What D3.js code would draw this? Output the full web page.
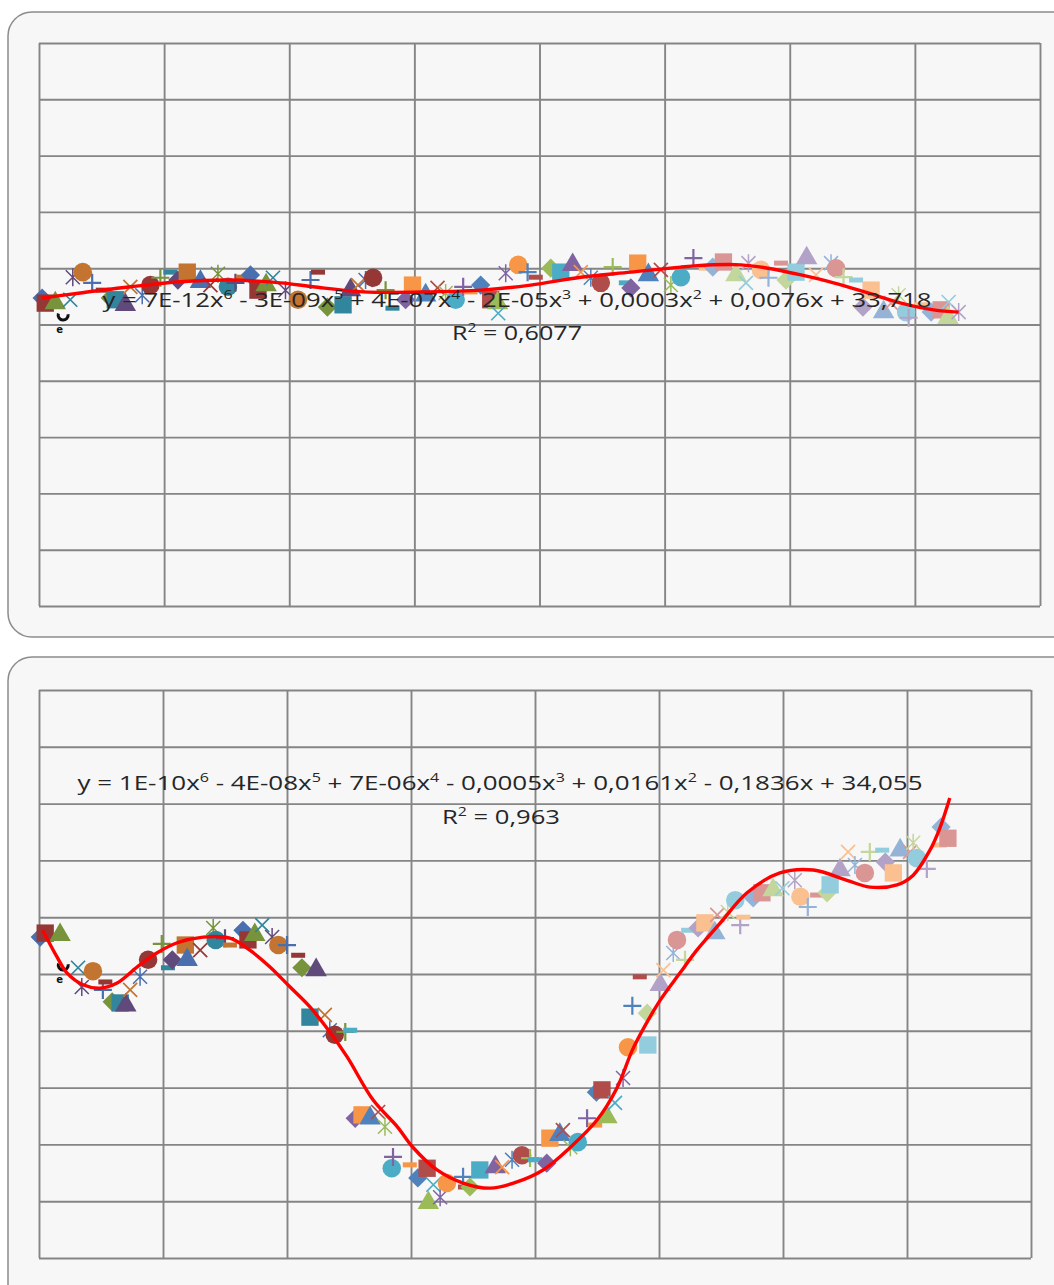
<!DOCTYPE html>
<html>
<head>
<meta charset="utf-8">
<script src="https://cdn.jsdelivr.net/npm/d3@7"></script>
<style>
  html, body { margin: 0; padding: 0; background: #fff; }
  svg { display: block; }
  .grid line { stroke: #858585; stroke-width: 1.9; }
  .grid .domain { display: none; }
  .eq { font-family: "Open Sans", "Noto Sans", sans-serif; fill: #262626; }
</style>
</head>
<body>
<svg id="chart" width="1054" height="1285"></svg>
<script>
/* ===========================================================
   Data
   =========================================================== */

const X_TICKS = [0, 20, 40, 60, 80, 100, 120, 140, 160];
const Y_TICKS = [30, 31, 32, 33, 34, 35, 36, 37, 38, 39, 40];

// top panel
const TOP_X = [0.5,1.0,2.6,5.0,5.4,7.0,8.5,10.2,11.4,12.2,
  13.8,14.6,16.5,17.8,19.4,21.0,22.2,23.7,25.8,27.4,
  28.6,30.2,31.4,32.6,33.8,35.0,36.3,37.4,39.4,41.4,
  43.4,44.6,46.1,48.6,49.8,51.0,52.2,53.4,55.4,56.5,
  58.6,59.7,61.8,63.7,65.0,66.6,67.8,69.0,70.6,72.2,
  73.3,73.4,74.6,76.6,78.1,79.4,81.8,83.4,85.3,86.6,
  88.2,89.8,91.7,93.8,94.6,95.7,97.4,99.4,101.0,102.6,
  104.6,106.6,107.7,109.4,111.4,113.0,113.4,115.4,116.6,118.6,
  119.4,121.0,122.7,124.2,126.6,127.4,128.6,130.6,131.7,133.0,
  135.0,136.2,137.4,138.6,139.0,141.0,142.6,144.2,145.3,145.4,147.0];
const TOP_Y = [35.47,35.38,35.38,35.44,35.84,35.93,35.74,35.61,35.47,35.44,
  35.35,35.67,35.52,35.70,35.83,35.93,35.79,35.93,35.76,35.70,
  35.90,35.67,35.74,35.84,35.88,35.61,35.70,35.83,35.61,35.44,
  35.79,35.93,35.31,35.35,35.61,35.70,35.79,35.83,35.61,35.29,
  35.44,35.70,35.52,35.65,35.56,35.44,35.67,35.58,35.70,35.44,
  35.38,35.20,35.91,36.06,35.93,35.84,36.00,35.93,36.06,35.93,
  35.83,35.74,36.02,35.74,35.65,36.09,35.88,35.97,35.70,35.84,
  36.18,36.00,36.02,36.11,35.88,35.74,36.09,35.97,35.83,36.09,
  35.79,35.93,36.18,35.88,36.09,36.00,35.84,35.79,35.31,35.61,
  35.22,35.38,35.52,35.22,35.12,35.35,35.22,35.26,35.12,35.40,35.22];
const TOP_TREND_X = [0.5,6.6,14.6,22.6,30.6,38.6,43.8,51.8,62.6,70.6,78.6,86.6,
  94.6,102.6,107.8,112.2,116.5,121.8,127.0,132.5,137.8,143.0,147.0];
const TOP_TREND_Y = [35.47,35.56,35.67,35.76,35.79,35.74,35.67,35.58,35.58,35.61,35.70,35.84,
  35.93,36.02,36.06,36.06,36.00,35.88,35.74,35.56,35.38,35.26,35.22];
const TOP_EQ = [['y = 7E-12x', '6'], [' - 3E-09x', '5'], [' + 4E-07x', '4'],
  [' - 2E-05x', '3'], [' + 0,0003x', '2'], [' + 0,0076x + 33,718', '']];
const TOP_R2 = [['R', '2'], [' = 0,6077', '']];

// bottom panel
const BOT_X = [0.2,1.0,3.4,6.3,6.9,8.7,10.3,10.7,11.8,13.1,
  14.0,14.7,16.3,17.6,19.8,20.8,21.5,23.6,23.9,26.0,
  28.1,28.5,30.0,30.8,32.9,33.7,34.8,36.0,37.6,38.6,
  40.0,41.8,42.4,43.7,44.7,46.1,46.9,47.7,49.4,50.2,
  51.0,52.1,53.4,54.7,55.8,56.9,57.1,59.8,61.1,62.6,
  62.8,63.6,64.7,65.8,68.4,68.7,69.5,71.1,73.6,74.7,
  76.3,77.9,79.2,80.0,81.9,82.4,84.0,84.5,85.7,86.9,
  88.4,89.7,89.9,90.8,91.6,92.9,94.2,95.0,95.7,96.9,
  98.1,98.2,100.2,100.7,102.3,102.9,104.2,104.7,106.3,107.4,
  109.0,109.4,111.1,112.3,113.1,113.6,115.2,116.6,118.4,119.9,
  121.9,122.8,124.0,125.5,127.1,127.6,129.2,130.5,131.6,133.2,
  134.0,136.0,136.5,137.8,138.9,140.5,141.0,141.6,143.2,145.3,
  145.5,146.6];
const BOT_Y = [35.65,35.72,35.69,35.11,34.77,35.05,34.72,34.86,34.51,34.49,
  34.45,34.72,34.95,35.25,35.53,35.11,35.25,35.51,35.25,35.42,
  35.81,35.60,35.63,35.51,35.77,35.60,35.69,35.86,35.65,35.51,
  35.51,35.33,35.11,34.24,35.07,34.28,34.01,33.93,33.98,34.01,
  32.46,32.52,32.46,32.57,32.31,31.58,31.78,31.64,31.41,31.58,
  30.97,31.29,31.07,31.32,31.43,31.25,31.25,31.55,31.60,31.60,
  31.73,31.81,31.76,31.73,31.67,32.11,32.17,32.25,31.95,32.04,
  32.46,32.34,32.92,32.96,32.48,32.73,33.17,33.71,34.44,34.95,
  34.31,33.75,34.81,35.07,35.37,35.60,35.25,35.77,35.81,35.90,
  35.72,36.04,36.09,36.30,35.86,36.00,36.34,36.43,36.48,36.51,
  36.65,36.36,36.18,36.39,36.43,36.57,36.83,37.15,36.92,36.78,
  37.15,37.18,36.97,36.78,37.18,37.15,37.31,37.04,36.85,37.27,
  37.59,37.39];
const BOT_TREND_X = [0.6,2.9,4.5,7.1,9.8,12.6,15.8,19.0,22.3,26.5,
  30.8,34.0,37.3,40.5,43.7,46.9,49.7,53.9,57.8,60.3,
  64.2,68.4,72.8,77.1,81.3,85.7,90.0,93.2,95.7,97.8,
  100.2,103.4,106.1,109.9,114.2,119.5,124.9,130.3,134.0,138.4,
  141.0,143.7,145.3,146.9];
const BOT_TREND_Y = [35.77,35.30,35.02,34.81,34.75,34.84,35.12,35.37,35.55,35.65,
  35.63,35.42,35.12,34.77,34.42,33.98,33.54,32.78,32.31,31.95,
  31.55,31.32,31.23,31.34,31.55,31.95,32.43,32.99,33.66,34.10,
  34.54,35.02,35.42,35.90,36.43,36.78,36.83,36.65,36.53,36.57,
  36.74,37.18,37.57,38.10];
const BOT_EQ = [['y = 1E-10x', '6'], [' - 4E-08x', '5'], [' + 7E-06x', '4'],
  [' - 0,0005x', '3'], [' + 0,0161x', '2'], [' - 0,1836x + 34,055', '']];
const BOT_R2 = [['R', '2'], [' = 0,963', '']];

/* ===========================================================
   Styling
   =========================================================== */

const SHAPES = ['diamond', 'square', 'triangle', 'x', 'asterisk', 'circle', 'plus', 'dash'];
// blue, red, green, aqua, purple, orange  -- dark / base / light shades
const SHADES = [
  ['#4a6fae', '#953735', '#77933c', '#31859c', '#604a7b', '#c27430'],
  ['#4f81bd', '#b04c4a', '#9bbb59', '#4bacc6', '#8064a2', '#f79646'],
  ['#95b3d7', '#d99694', '#c3d69b', '#93cddd', '#b3a2c7', '#fac090']
];

const svg = d3.select('#chart');

function drawMarker(g, shape, color) {
  switch (shape) {
    case 'diamond':
      g.append('path').attr('d', d3.symbol(d3.symbolSquare, 185)())
        .attr('transform', 'rotate(45)').attr('fill', color);
      break;
    case 'square':
      g.append('path').attr('d', d3.symbol(d3.symbolSquare, 300)()).attr('fill', color);
      break;
    case 'triangle':
      g.append('path').attr('d', d3.symbol(d3.symbolTriangle, 200)()).attr('fill', color);
      break;
    case 'circle':
      g.append('path').attr('d', d3.symbol(d3.symbolCircle, 270)()).attr('fill', color);
      break;
    case 'x':
      g.append('path').attr('d', 'M-7,-7L7,7M-7,7L7,-7')
        .attr('stroke', color).attr('stroke-width', 1.7);
      break;
    case 'asterisk':
      g.append('path').attr('d', 'M-7,-7L7,7M-7,7L7,-7M0,-9L0,9')
        .attr('stroke', color).attr('stroke-width', 1.5);
      break;
    case 'plus':
      g.append('path').attr('d', 'M-9,0L9,0M0,-9L0,9')
        .attr('stroke', color).attr('stroke-width', 2.2);
      break;
    case 'dash':
      g.append('rect').attr('x', -7).attr('y', -2.5).attr('width', 14).attr('height', 5)
        .attr('fill', color);
      break;
  }
}

function addText(g, parts, cx, baseline, length, size) {
  const t = g.append('text').attr('class', 'eq')
    .attr('x', cx).attr('y', baseline)
    .attr('text-anchor', 'middle')
    .attr('font-size', size)
    .attr('textLength', length)
    .attr('lengthAdjust', 'spacingAndGlyphs');
  let lift = 0;
  parts.forEach(([base, sup]) => {
    t.append('tspan').attr('dy', lift).text(base);
    lift = 0;
    if (sup) {
      t.append('tspan').attr('dy', -8).attr('font-size', size * 0.62).text(sup);
      lift = 8;
    }
  });
}

function drawPanel(cfg) {
  const { frame, plot } = cfg;

  svg.append('rect')
    .attr('x', frame.x).attr('y', frame.y)
    .attr('width', frame.w).attr('height', frame.h)
    .attr('rx', 24).attr('ry', 24)
    .attr('fill', '#f7f7f7')
    .attr('stroke', '#8c8c8c').attr('stroke-width', 1.5);

  const W = plot.x1 - plot.x0;
  const H = plot.y1 - plot.y0;
  const g = svg.append('g').attr('transform', `translate(${plot.x0},${plot.y0})`);

  const x = d3.scaleLinear().domain([0, 160]).range([0, W]);
  const y = d3.scaleLinear().domain([30, 40]).range([H, 0]);

  g.append('g').attr('class', 'grid')
    .call(d3.axisLeft(y).tickValues(Y_TICKS).tickSize(-W).tickFormat(''));
  g.append('g').attr('class', 'grid')
    .attr('transform', `translate(0,${H})`)
    .call(d3.axisBottom(x).tickValues(X_TICKS).tickSize(-H).tickFormat(''));

  // scatter markers
  cfg.xs.forEach((xv, i) => {
    const tier = xv < cfg.breaks[0] ? 0 : xv < cfg.breaks[1] ? 1 : 2;
    const m = g.append('g')
      .attr('transform', `translate(${x(xv)},${y(cfg.ys[i])})`);
    drawMarker(m, SHAPES[i % SHAPES.length], SHADES[tier][i % 6]);
  });

  // small black marks near the first point
  const fx = x(cfg.xs[0]), fy = y(cfg.ys[0]);
  g.append('path')
    .attr('d', d3.arc().innerRadius(3.5).outerRadius(6.5)
      .startAngle(Math.PI * 0.45).endAngle(Math.PI * 1.6)())
    .attr('transform', `translate(${fx + cfg.mark[0]},${fy + cfg.mark[1]})`)
    .attr('fill', '#111');
  g.append('text')
    .attr('x', fx + cfg.mark[0] - 7).attr('y', fy + cfg.mark[1] + 18)
    .attr('font-family', 'DejaVu Sans').attr('font-size', 10).attr('font-weight', 'bold')
    .attr('fill', '#111').text('e');

  // polynomial trend line
  const trend = cfg.tx.map((v, i) => [v, cfg.ty[i]]);
  g.append('path')
    .datum(trend)
    .attr('fill', 'none')
    .attr('stroke', '#ff0000')
    .attr('stroke-width', 3.4)
    .attr('stroke-linejoin', 'round')
    .attr('d', d3.line().x(d => x(d[0])).y(d => y(d[1]))
      .curve(d3.curveCatmullRom.alpha(0.5)));

  addText(svg, cfg.eq, cfg.eqPos[0], cfg.eqPos[1], cfg.eqPos[2], 20);
  addText(svg, cfg.r2, cfg.r2Pos[0], cfg.r2Pos[1], cfg.r2Pos[2], 20);
}

drawPanel({
  frame: { x: 8, y: 12, w: 1080, h: 625 },
  plot: { x0: 39, x1: 1040, y0: 43, y1: 606 },
  xs: TOP_X, ys: TOP_Y, tx: TOP_TREND_X, ty: TOP_TREND_Y,
  breaks: [57, 106],
  mark: [21, 17],
  eq: TOP_EQ, eqPos: [517, 307, 829],
  r2: TOP_R2, r2Pos: [517, 340, 130]
});

drawPanel({
  frame: { x: 8, y: 657, w: 1080, h: 680 },
  plot: { x0: 39, x1: 1031, y0: 690, y1: 1258 },
  xs: BOT_X, ys: BOT_Y, tx: BOT_TREND_X, ty: BOT_TREND_Y,
  breaks: [50, 97],
  mark: [23, 28],
  eq: BOT_EQ, eqPos: [500, 790, 845],
  r2: BOT_R2, r2Pos: [501, 824, 118]
});
</script>
</body>
</html>
